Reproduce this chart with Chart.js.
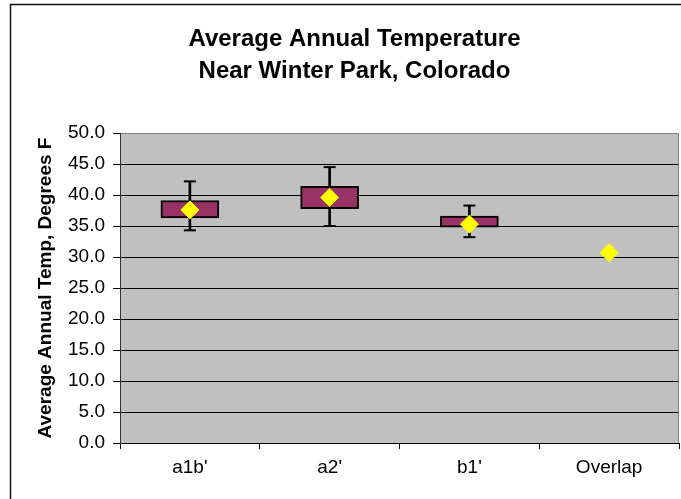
<!DOCTYPE html>
<html>
<head>
<meta charset="utf-8">
<title>Average Annual Temperature</title>
<script src="https://cdn.jsdelivr.net/npm/chart.js@4/dist/chart.umd.min.js"></script>
<style>
  html, body { margin: 0; padding: 0; background: #fff; }
  canvas { display: block; }
</style>
</head>
<body>
<canvas id="chart" width="681" height="499"></canvas>
<script>
// Scenario labels
const categories = ["a1b'", "a2'", "b1'", "Overlap"];

// Box-and-whisker summary per scenario (degrees F)
const whiskerLow  = [34.3, 35.0, 33.2, null];
const boxLow      = [36.3, 37.8, 34.8, null];
const boxHigh     = [39.1, 41.4, 36.6, null];
const whiskerHigh = [42.2, 44.5, 38.3, null];
const meanTemp    = [37.6, 39.6, 35.3, 30.7];

// Y-axis range and tick spacing
const yMin = 0, yMax = 50, yStep = 5;

const FONT = "'Liberation Sans', Arial, sans-serif";

const pairs = (lo, hi) => lo.map((v, i) => (v == null || hi[i] == null) ? null : [v, hi[i]]);

// Paints the white page, the outer frame, and the grey plot area
const backdrop = {
  id: 'backdrop',
  beforeDraw(chart) {
    const { ctx, chartArea: a, width, height } = chart;
    ctx.save();
    ctx.fillStyle = '#fff';
    ctx.fillRect(0, 0, width, height);
    ctx.strokeStyle = '#111';
    ctx.lineWidth = 1.5;
    ctx.beginPath();
    ctx.moveTo(10.5, height);
    ctx.lineTo(10.5, 4.5);
    ctx.lineTo(width, 4.5);
    ctx.stroke();
    ctx.fillStyle = '#C0C0C0';
    ctx.fillRect(a.left, a.top, a.right - a.left, a.bottom - a.top);
    ctx.restore();
  },
  afterDatasetsDraw(chart) {
    const { ctx, chartArea: a } = chart;
    ctx.save();
    ctx.strokeStyle = '#808080';
    ctx.lineWidth = 1;
    ctx.beginPath();
    ctx.moveTo(a.right - 0.5, a.top);
    ctx.lineTo(a.right - 0.5, a.bottom);
    ctx.stroke();
    ctx.restore();
  }
};

new Chart(document.getElementById('chart'), {
  type: 'bar',
  data: {
    labels: categories,
    datasets: [
      {
        type: 'line',
        label: 'Mean',
        data: meanTemp,
        showLine: false,
        pointStyle: 'rectRot',
        pointRadius: 9,
        pointBackgroundColor: '#FFFF00',
        pointBorderColor: '#FFFF00',
        pointBorderWidth: 1,
        order: 0
      },
      {
        type: 'line',
        label: 'Upper cap',
        data: whiskerHigh,
        showLine: false,
        pointStyle: 'line',
        pointRadius: 6,
        pointBorderColor: '#000',
        pointBorderWidth: 2,
        order: 1
      },
      {
        type: 'line',
        label: 'Lower cap',
        data: whiskerLow,
        showLine: false,
        pointStyle: 'line',
        pointRadius: 6,
        pointBorderColor: '#000',
        pointBorderWidth: 2,
        order: 1
      },
      {
        label: 'Box',
        data: pairs(boxLow, boxHigh),
        backgroundColor: '#993366',
        borderColor: '#000',
        borderWidth: 2,
        borderSkipped: false,
        barThickness: 58,
        grouped: false,
        order: 2
      },
      {
        label: 'Whisker',
        data: pairs(whiskerLow, whiskerHigh),
        backgroundColor: '#000',
        borderWidth: 0,
        barThickness: 2,
        grouped: false,
        order: 3
      }
    ]
  },
  options: {
    responsive: false,
    animation: false,
    layout: { autoPadding: false, padding: { left: 30, right: 2, top: 0, bottom: 0 } },
    plugins: {
      legend: { display: false },
      tooltip: { enabled: false },
      title: {
        display: true,
        text: ['Average Annual Temperature', 'Near Winter Park, Colorado'],
        color: '#000',
        font: { family: FONT, size: 24, weight: 'bold', lineHeight: 32 / 24 },
        padding: { top: 23, bottom: 46 }
      }
    },
    scales: {
      x: {
        offset: true,
        afterFit(scale) { scale.height = 56; },
        grid: {
          offset: true,
          drawOnChartArea: false,
          drawTicks: true,
          tickLength: 6,
          tickColor: '#000'
        },
        border: { color: '#000', width: 1 },
        ticks: {
          color: '#000',
          padding: 7,
          font: { family: FONT, size: 19 }
        }
      },
      y: {
        min: yMin,
        max: yMax,
        afterFit(scale) { scale.width = 90; },
        grid: {
          color: (c) => (c.tick && c.tick.value === yMax) ? '#808080' : '#000',
          lineWidth: 1,
          drawTicks: true,
          tickLength: 7,
          tickColor: '#000'
        },
        border: { color: '#333', width: 1 },
        ticks: {
          stepSize: yStep,
          color: '#000',
          padding: 8,
          font: { family: FONT, size: 19 },
          callback: (v) => Number(v).toFixed(1)
        },
        title: {
          display: true,
          text: 'Average Annual Temp, Degrees F',
          color: '#000',
          font: { family: FONT, size: 19, weight: 'bold' },
          padding: { top: 4, bottom: 0 }
        }
      }
    }
  },
  plugins: [backdrop]
});
</script>
</body>
</html>
